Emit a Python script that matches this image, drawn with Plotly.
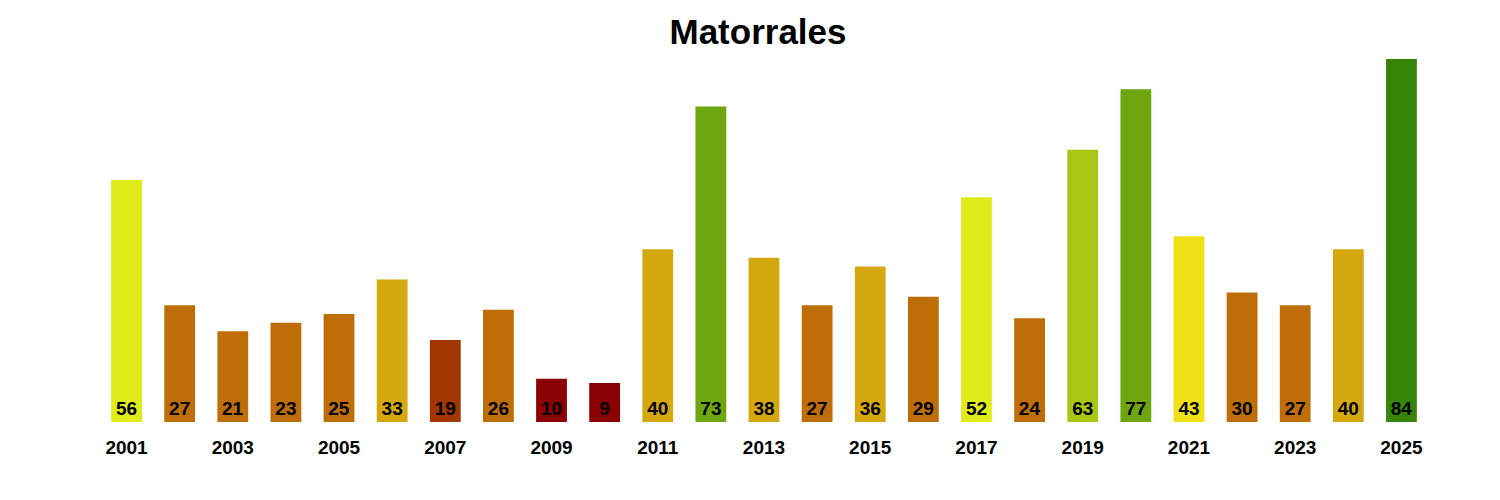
import plotly.graph_objects as go

years = list(range(2001, 2026))
values = [56, 27, 21, 23, 25, 33, 19, 26, 10, 9, 40, 73, 38, 27, 36, 29, 52, 24, 63, 77, 43, 30, 27, 40, 84]
colors = ["#E0EB1A", "#BF6D07", "#BF6D07", "#BF6D07", "#BF6D07", "#D6A80F", "#A33500", "#BF6D07",
          "#8B0000", "#8B0000", "#D6A80F", "#6DA60E", "#D6A80F", "#BF6D07", "#D6A80F", "#BF6D07",
          "#E0EB1A", "#BF6D07", "#A8C814", "#6DA60E", "#F0E018", "#BF6D07", "#BF6D07", "#D6A80F", "#368408"]
tick_vals = list(range(2001, 2026, 2))
tick_text = [str(y) for y in tick_vals]

fig = go.Figure(go.Bar(
    x=years, y=values, marker=dict(color=colors, line=dict(width=0)),
    width=0.58,
    text=[str(v) for v in values], textposition="inside", insidetextanchor="start",
    textangle=0, constraintext="none",
    textfont=dict(family="Arial, Liberation Sans", size=19, color="black", weight="bold"),
))
fig.update_layout(
    width=1500, height=500,
    paper_bgcolor="white", plot_bgcolor="white",
    margin=dict(l=92, r=80, t=42, b=86),
    title=dict(text="<b>Matorrales</b>", x=0.5, xanchor="center", y=0.952, yanchor="middle",
               font=dict(family="Arial, Liberation Sans", size=35, color="black")),
    xaxis=dict(range=[2000.5, 2025.5], tickvals=tick_vals, ticktext=tick_text, showgrid=False,
               zeroline=False, showline=False, ticks="", ticklabelstandoff=12,
               tickfont=dict(family="Arial, Liberation Sans", size=19, color="black", weight="bold")),
    yaxis=dict(range=[0, 86.1], visible=False, showgrid=False, zeroline=False),
    uniformtext=dict(mode=False),
    showlegend=False,
)
fig.write_html("out.html")
